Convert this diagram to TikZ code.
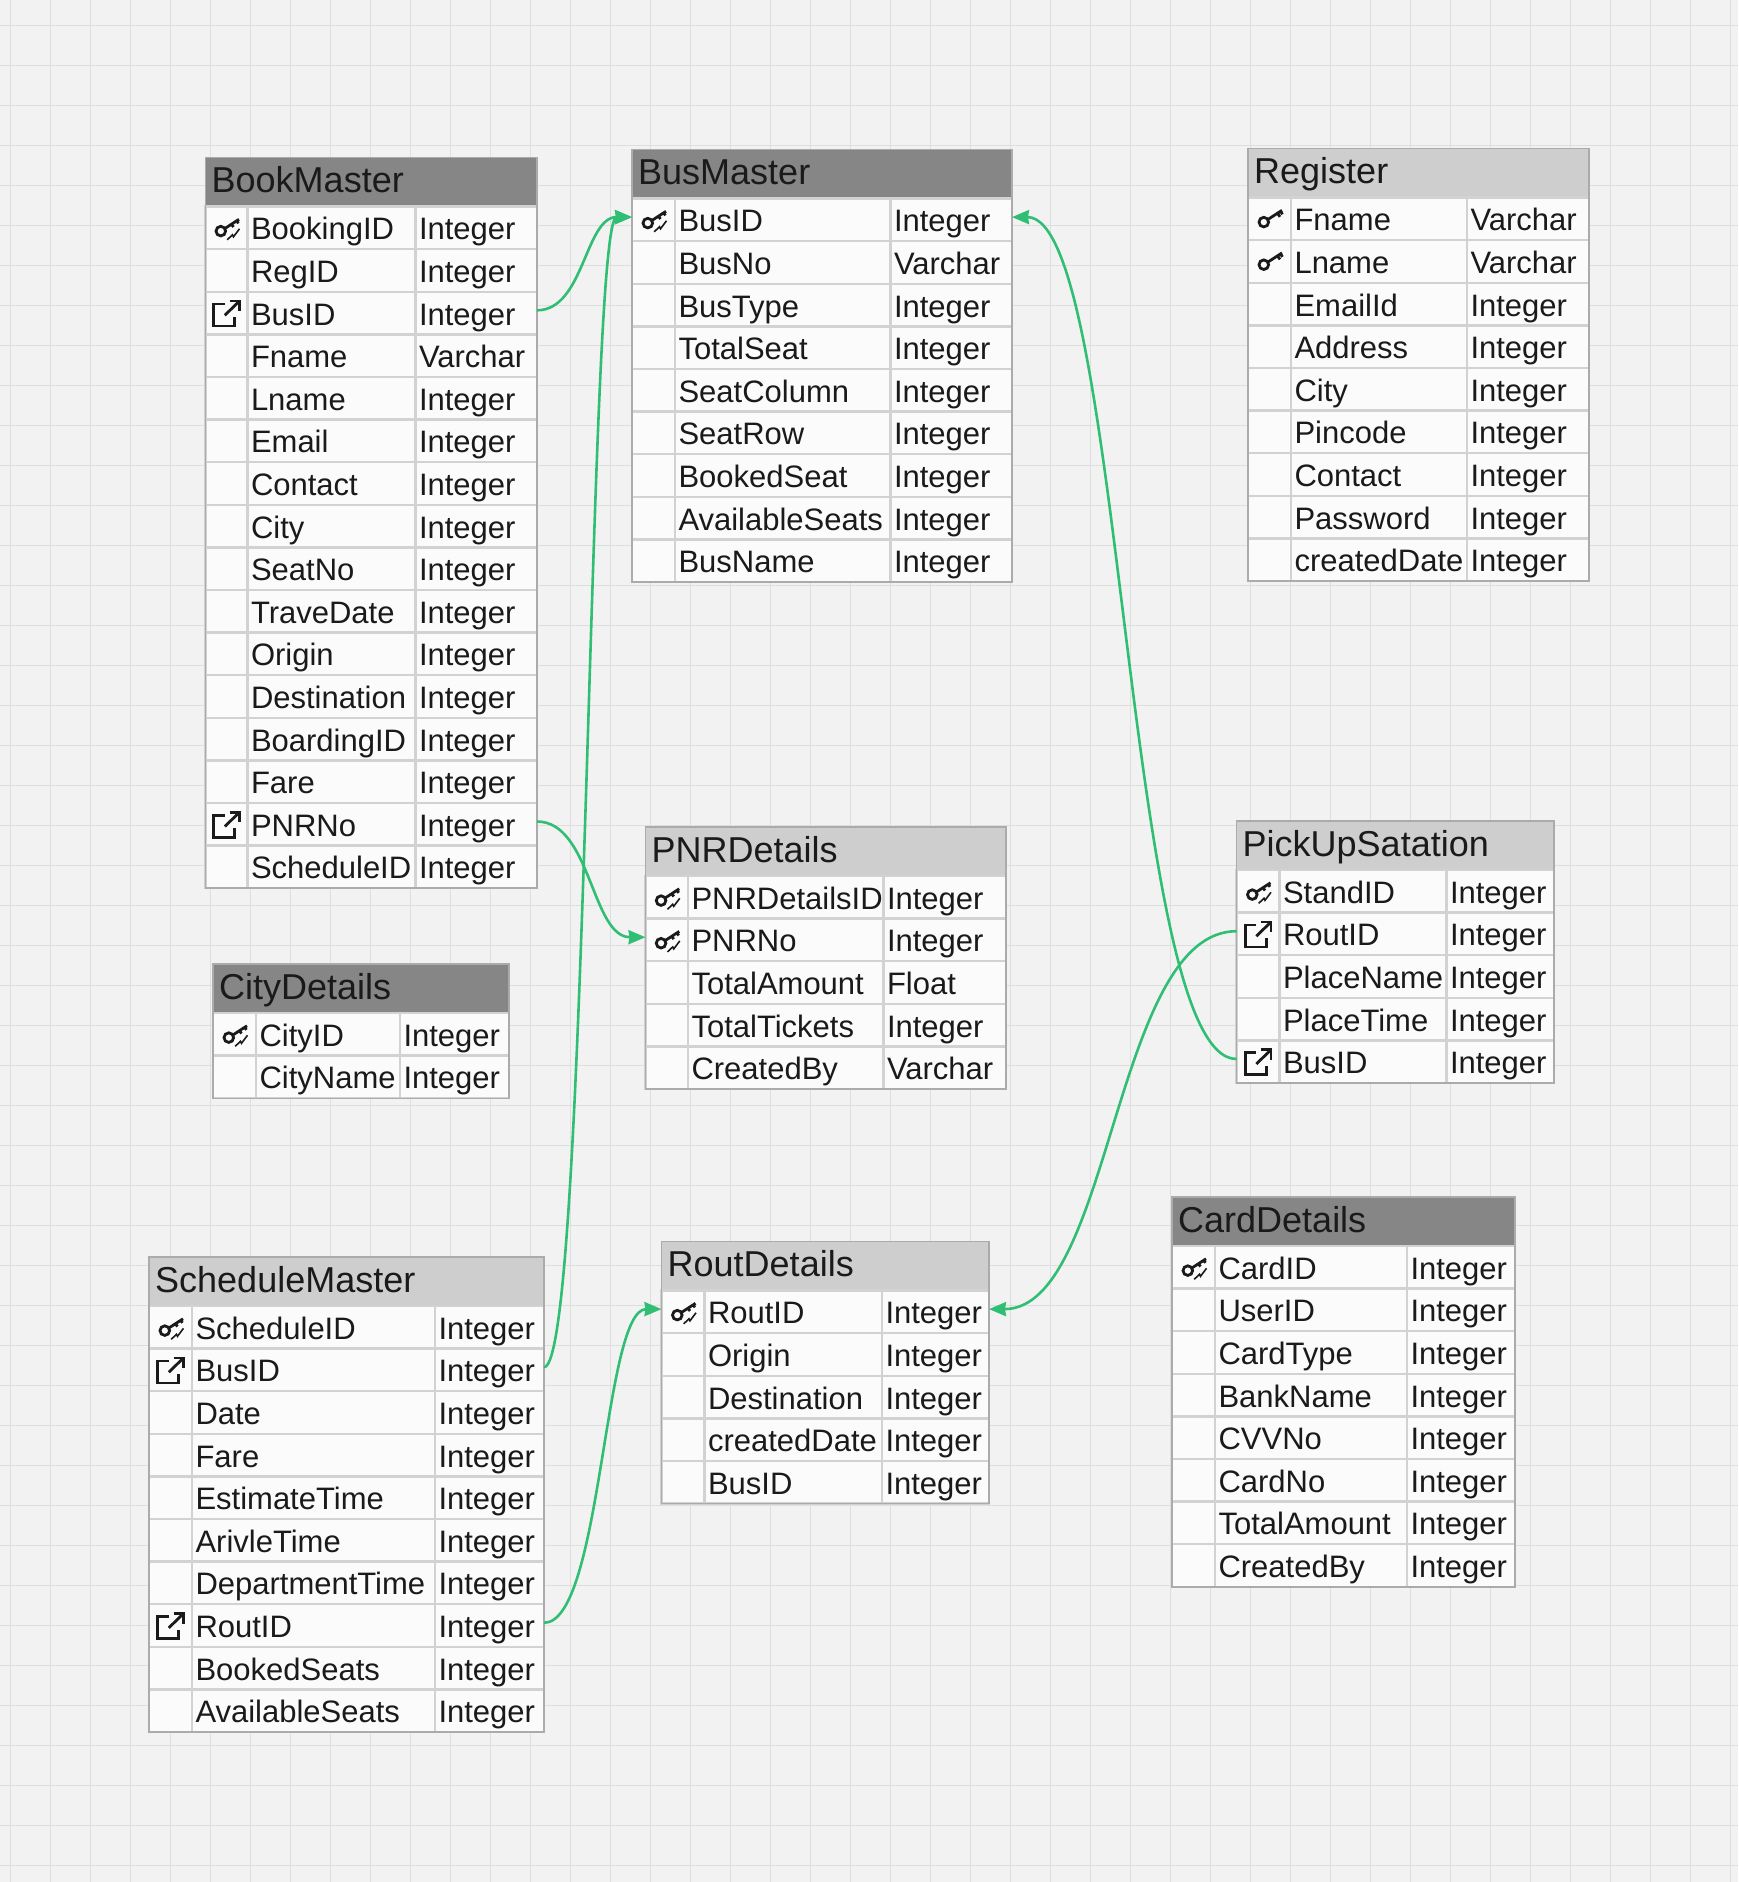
\documentclass[tikz,border=0pt]{standalone}
\usepackage{fontspec}
\usepackage{xcolor}
\usetikzlibrary{positioning,arrows.meta,calc}
\setmainfont{Liberation Sans}

\definecolor{canvasgray}{HTML}{F2F2F2}
\definecolor{gridgray}{HTML}{DEDEDE}
\definecolor{darkhead}{HTML}{868686}
\definecolor{lighthead}{HTML}{CECECE}
\definecolor{cellwhite}{HTML}{FBFBFB}
\definecolor{sepgray}{HTML}{D2D2D2}
\definecolor{framegray}{HTML}{ABABAB}
\definecolor{inkblack}{HTML}{1A1A1A}
\definecolor{linkgreen}{HTML}{2FBE74}

% one table: id, title, head colour, left, top, first column end, second column end, right, rows
\newcommand{\dbtable}[9]{%
  \pgfmathsetmacro{\wall}{#8-#4}
  \pgfmathsetmacro{\whead}{#8-#4-12}
  \pgfmathsetmacro{\wicon}{#6-#4}
  \pgfmathsetmacro{\wname}{#7-#6-7}
  \pgfmathsetmacro{\wtype}{#8-#7-7}
  \node[headbox, fill=#3, minimum width=\wall pt, text width=\whead pt] (#1) at (#4,#5) {\mbox{#2}};
  \foreach \icon/\fname/\ftype [count=\rowno] in {#9} {
    \pgfmathsetmacro{\yrow}{#5+49+(\rowno-0.5)*\rowh}
    \node[cellbox, minimum width=\wicon pt] (#1\rowno-i) at (#4,\yrow) {};
    \node[cellbox, text width=\wname pt] (#1\rowno-n) at (#6,\yrow) {\mbox{\fname}};
    \node[cellbox, text width=\wtype pt] (#1\rowno-t) at (#7,\yrow) {\mbox{\ftype}};
    \pic at (#1\rowno-i.center) {\icon};
    \xdef\ybottom{\yrow}
  }
  \draw[framegray, line width=1.4pt] (#4,#5) rectangle (#8,\ybottom+0.5*\rowh);
}

\begin{document}
\begin{tikzpicture}[
          x=1pt, y=-1pt,
          headbox/.style={anchor=north west, minimum height=47.5pt, inner xsep=6pt, inner ysep=0pt, text=inkblack, text height=26pt, text depth=3pt, font=\fontsize{36}{40}\selectfont},
          cellbox/.style={anchor=west, draw=sepgray, line width=2.4pt, outer sep=0pt, fill=cellwhite, minimum height=42.6pt, inner xsep=3.5pt, inner ysep=0pt, text=inkblack, text height=24pt, text depth=0pt, font=\fontsize{31}{34}\selectfont},
          link/.style={linkgreen, line width=2.6pt, -{Stealth[length=17pt,width=14pt,inset=1pt]}},
          icostroke/.style={inkblack, line width=2.8pt},
          noicon/.pic={},
          keyplain/.pic={
            \draw[icostroke] (-5.7,3.3) circle (4.8);
            \draw[icostroke] (-1.8,0.8) -- (12.5,-8.5);
            \draw[icostroke] (8,-5.5) -- (10.5,-2);
            \draw[icostroke] (11,-7.5) -- (13,-4.5);
          },
          keyicon/.pic={
            \draw[icostroke] (-5.7,3.3) circle (4.8);
            \draw[icostroke] (-1.8,0.8) -- (12.5,-8.5);
            \draw[icostroke] (5,-3.5) -- (7,-0.8);
            \draw[icostroke] (10,-7) -- (12,-4.5);
            \draw[inkblack, line width=1.6pt] (0.7,12) -- (6,7) -- (7,9) -- (13,1);
          },
          fkicon/.pic={
            \draw[icostroke] (-2,-9) -- (-12.7,-9) -- (-12.7,13) -- (8.3,13) -- (8.3,4);
            \draw[icostroke] (-1.7,2.3) -- (13,-12);
            \draw[icostroke] (3,-12) -- (13,-12) -- (13,-2);
          }
      ]
        \def\rowh{42.6}
        \useasboundingbox (0,0) rectangle (1738,1882);
        \fill[canvasgray] (0,0) rectangle (1738,1882);
        \foreach \gx in {10,50,...,1730} \draw[gridgray, line width=1pt] (\gx,0) -- (\gx,1882);
        \foreach \gy in {25,65,...,1865} \draw[gridgray, line width=1pt] (0,\gy) -- (1738,\gy);

        \dbtable{book}{BookMaster}{darkhead}{205.5}{157.5}{247.5}{415.5}{537}{
          keyicon/BookingID/Integer, noicon/RegID/Integer, fkicon/BusID/Integer,
          noicon/Fname/Varchar, noicon/Lname/Integer, noicon/Email/Integer,
          noicon/Contact/Integer, noicon/City/Integer, noicon/SeatNo/Integer,
          noicon/TraveDate/Integer, noicon/Origin/Integer, noicon/Destination/Integer,
          noicon/BoardingID/Integer, noicon/Fare/Integer, fkicon/PNRNo/Integer,
          noicon/ScheduleID/Integer}

        \dbtable{bus}{BusMaster}{darkhead}{632}{149.5}{675}{890.5}{1012}{
          keyicon/BusID/Integer, noicon/BusNo/Varchar, noicon/BusType/Integer,
          noicon/TotalSeat/Integer, noicon/SeatColumn/Integer, noicon/SeatRow/Integer,
          noicon/BookedSeat/Integer, noicon/AvailableSeats/Integer, noicon/BusName/Integer}

        \dbtable{reg}{Register}{lighthead}{1248}{148.5}{1291}{1467}{1589}{
          keyplain/Fname/Varchar, keyplain/Lname/Varchar, noicon/EmailId/Integer,
          noicon/Address/Integer, noicon/City/Integer, noicon/Pincode/Integer,
          noicon/Contact/Integer, noicon/Password/Integer, noicon/createdDate/Integer}

        \dbtable{pnr}{PNRDetails}{lighthead}{645.5}{827}{688}{883.5}{1006}{
          keyicon/PNRDetailsID/Integer, keyicon/PNRNo/Integer, noicon/TotalAmount/Float,
          noicon/TotalTickets/Integer, noicon/CreatedBy/Varchar}

        \dbtable{city}{CityDetails}{darkhead}{213}{964}{256}{400}{509}{
          keyicon/CityID/Integer, noicon/CityName/Integer}

        \dbtable{pick}{PickUpSatation}{lighthead}{1236.5}{821}{1279.5}{1446.5}{1554}{
          keyicon/StandID/Integer, fkicon/RoutID/Integer, noicon/PlaceName/Integer,
          noicon/PlaceTime/Integer, fkicon/BusID/Integer}

        \dbtable{card}{CardDetails}{darkhead}{1172}{1197}{1215}{1407}{1515}{
          keyicon/CardID/Integer, noicon/UserID/Integer, noicon/CardType/Integer,
          noicon/BankName/Integer, noicon/CVVNo/Integer, noicon/CardNo/Integer,
          noicon/TotalAmount/Integer, noicon/CreatedBy/Integer}

        \dbtable{rout}{RoutDetails}{lighthead}{661.5}{1241.5}{704.5}{882}{989}{
          keyicon/RoutID/Integer, noicon/Origin/Integer, noicon/Destination/Integer,
          noicon/createdDate/Integer, noicon/BusID/Integer}

        \dbtable{sched}{ScheduleMaster}{lighthead}{149}{1257}{192}{435}{544}{
          keyicon/ScheduleID/Integer, fkicon/BusID/Integer, noicon/Date/Integer,
          noicon/Fare/Integer, noicon/EstimateTime/Integer, noicon/ArivleTime/Integer,
          noicon/DepartmentTime/Integer, fkicon/RoutID/Integer, noicon/BookedSeats/Integer,
          noicon/AvailableSeats/Integer}

        % links between the tables
        \draw[link] ([yshift=2.7pt]book3-t.east) .. controls +(47,0) and +(-47,0) .. ([yshift=2.7pt]bus1-i.west);
        \draw[link] ([yshift=2.7pt]book15-t.east) .. controls +(54,0) and +(-54,0) .. ([yshift=2.7pt]pnr2-i.west);
        \draw[link] ([yshift=2.7pt]pick5-i.west) .. controls +(-112,0) and +(112,0) .. ([yshift=2.7pt]bus1-t.east);
        \draw[link] ([yshift=2.7pt]pick2-i.west) .. controls +(-123,0) and +(123,0) .. ([yshift=2.7pt]rout1-t.east);
        \draw[link] ([yshift=2.7pt]sched2-t.east) .. controls +(44,0) and +(-44,0) .. ([yshift=2.7pt]bus1-i.west);
        \draw[link] ([yshift=2.7pt]sched8-t.east) .. controls +(58,0) and +(-58,0) .. ([yshift=2.7pt]rout1-i.west);
      \end{tikzpicture}
\end{document}
